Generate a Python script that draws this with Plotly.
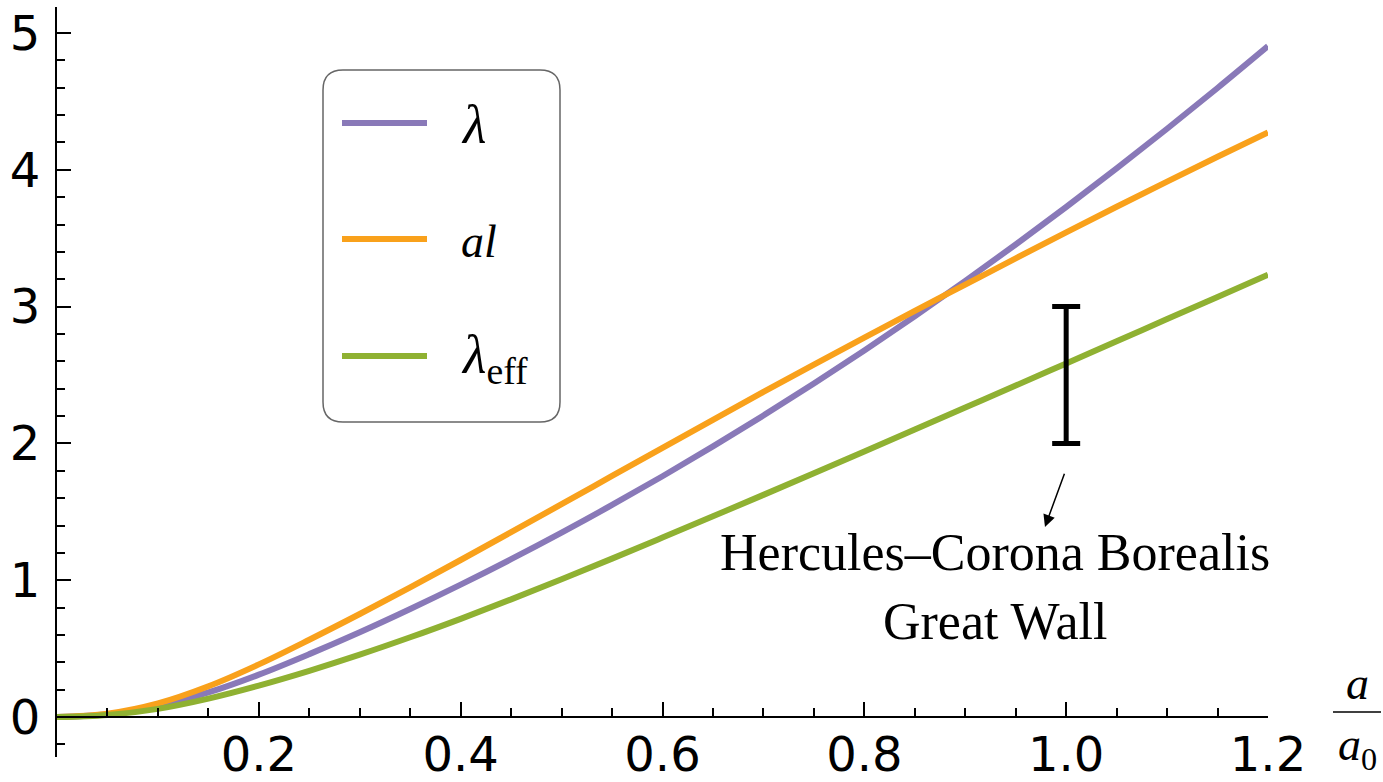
import plotly.graph_objects as go

# ---- data ----
x_vals = [0.0, 0.05, 0.1, 0.15, 0.2, 0.25, 0.3, 0.35, 0.4, 0.45, 0.5, 0.55, 0.6,
          0.65, 0.7, 0.75, 0.8, 0.85, 0.9, 0.95, 1.0, 1.05, 1.1, 1.15, 1.2]
lam = [0.0, 0.02, 0.08, 0.18, 0.31, 0.46, 0.62, 0.79, 0.968, 1.154, 1.348, 1.55, 1.76,
       1.978, 2.204, 2.438, 2.68, 2.93, 3.188, 3.454, 3.728, 4.01, 4.30, 4.598, 4.904]
al = [0.0, 0.025, 0.10, 0.225, 0.385, 0.565, 0.753, 0.948, 1.148, 1.351, 1.556, 1.762, 1.968,
      2.173, 2.376, 2.576, 2.774, 2.969, 3.161, 3.353, 3.543, 3.730, 3.914, 4.095, 4.273]
lam_eff = [0.0, 0.015, 0.06, 0.135, 0.23, 0.338, 0.456, 0.583, 0.718, 0.86, 1.007, 1.158, 1.312,
           1.467, 1.624, 1.782, 1.941, 2.101, 2.262, 2.423, 2.585, 2.747, 2.909, 3.071, 3.233]

obs_x = [1.0]
obs_y = [2.5]
obs_err = [0.5]

x_ticks = [0.2, 0.4, 0.6, 0.8, 1.0, 1.2]
x_ticklabels = ["0.2", "0.4", "0.6", "0.8", "1.0", "1.2"]
y_ticks = [0, 1, 2, 3, 4, 5]
y_ticklabels = ["0", "1", "2", "3", "4", "5"]

series_names = ["<i>λ</i>", "<i>al</i>", "<i>λ</i><sub>eff</sub>"]
colors = ["#8979B8", "#F9A11B", "#8FB132"]

W, H = 1383, 782
ML, MR, MT, MB = 57, 115, 7, 25
PW, PH = W - ML - MR, H - MT - MB


def PX(px):
    return (px - ML) / PW


def PY(py):
    return (H - MB - py) / PH


SERIF = "Liberation Serif, Times New Roman, serif"
SANS = "DejaVu Sans, sans-serif"

fig = go.Figure()
for ys, c in zip([lam, al, lam_eff], colors):
    fig.add_trace(go.Scatter(x=x_vals, y=ys, mode="lines", line=dict(color=c, width=6, shape="spline"),
                             showlegend=False, hoverinfo="skip"))

fig.add_trace(go.Scatter(x=obs_x, y=obs_y, mode="markers", marker=dict(size=0.1, color="black", opacity=0),
                         error_y=dict(type="data", array=obs_err, visible=True, color="black",
                                      thickness=5, width=14),
                         showlegend=False, hoverinfo="skip"))

shapes = []
annotations = []

# legend box (rounded rectangle)
x0, x1, y0, y1, r = 323, 560, 70, 422, 20
rx, ry = r / PW, r / PH
L, R, T, B = PX(x0), PX(x1), PY(y0), PY(y1)
path = (f"M {L+rx},{T} L {R-rx},{T} Q {R},{T} {R},{T-ry} L {R},{B+ry} Q {R},{B} {R-rx},{B} "
        f"L {L+rx},{B} Q {L},{B} {L},{B+ry} L {L},{T-ry} Q {L},{T} {L+rx},{T} Z")
shapes.append(dict(type="path", xref="paper", yref="paper", path=path,
                   line=dict(color="#666666", width=1.5), fillcolor="white", layer="below"))

leg_y = [123, 239, 356]
leg_sizes = [54, 46, 54]
for name, c, ly, fs in zip(series_names, colors, leg_y, leg_sizes):
    shapes.append(dict(type="line", xref="paper", yref="paper", x0=PX(342), x1=PX(427),
                       y0=PY(ly), y1=PY(ly), line=dict(color=c, width=6)))
    annotations.append(dict(xref="paper", yref="paper", x=PX(459), y=PY(ly + 2), text=name,
                            showarrow=False, xanchor="left", yanchor="middle",
                            font=dict(family=SERIF, size=fs, color="black")))

# annotation text
annotations.append(dict(x=(995 - ML) / PW * 1.2, y=(717 - 552) / 136.8, xref="x", yref="y",
                        text="Hercules–Corona Borealis", showarrow=False, xanchor="center",
                        yanchor="middle", font=dict(family=SERIF, size=52, color="black")))
annotations.append(dict(x=(995 - ML) / PW * 1.2, y=(717 - 621) / 136.8, xref="x", yref="y",
                        text="Great Wall", showarrow=False, xanchor="center",
                        yanchor="middle", font=dict(family=SERIF, size=52, color="black")))
# arrow
annotations.append(dict(x=0.979, y=1.39, xref="x", yref="y", ax=0.9988, ay=1.79,
                        axref="x", ayref="y", text="", showarrow=True, arrowhead=2,
                        arrowsize=1.6, arrowwidth=1.5, arrowcolor="black"))

# x-axis label (fraction a / a0)
annotations.append(dict(xref="paper", yref="paper", x=PX(1357), y=PY(683), text="<i>a</i>",
                        showarrow=False, xanchor="center", yanchor="middle",
                        font=dict(family=SERIF, size=46, color="black")))
annotations.append(dict(xref="paper", yref="paper", x=PX(1357), y=PY(748), text="<i>a</i><sub>0</sub>",
                        showarrow=False, xanchor="center", yanchor="middle",
                        font=dict(family=SERIF, size=46, color="black")))
shapes.append(dict(type="line", xref="paper", yref="paper", x0=PX(1333), x1=PX(1381),
                   y0=PY(712), y1=PY(712), line=dict(color="black", width=1.5)))

fig.update_layout(
    width=W, height=H,
    margin=dict(l=ML, r=MR, t=MT, b=MB, autoexpand=False),
    paper_bgcolor="white", plot_bgcolor="white",
    shapes=shapes, annotations=annotations, showlegend=False,
    xaxis=dict(range=[0, 1.2], anchor="free", position=0.292 / 5.482,
               showline=True, linecolor="black", linewidth=2,
               showgrid=False, zeroline=False,
               tickmode="array", tickvals=x_ticks, ticktext=x_ticklabels,
               ticks="inside", ticklen=14, tickwidth=2, tickcolor="black",
               minor=dict(dtick=0.05, tick0=0, ticks="inside", ticklen=8, tickwidth=2,
                          tickcolor="black", showgrid=False),
               tickfont=dict(family=SANS, size=48, color="black"),
               ticklabelstandoff=-5),
    yaxis=dict(range=[-0.292, 5.19], showline=True, linecolor="black", linewidth=2,
               showgrid=False, zeroline=False,
               tickmode="array", tickvals=y_ticks, ticktext=y_ticklabels,
               ticks="inside", ticklen=14, tickwidth=2, tickcolor="black",
               minor=dict(dtick=0.2, tick0=0, ticks="inside", ticklen=8, tickwidth=2,
                          tickcolor="black", showgrid=False),
               tickfont=dict(family=SANS, size=48, color="black"),
               ticklabelstandoff=5),
)

fig.write_html("out.html", config={"displayModeBar": False},
               post_script="document.body.style.margin='0px';")
